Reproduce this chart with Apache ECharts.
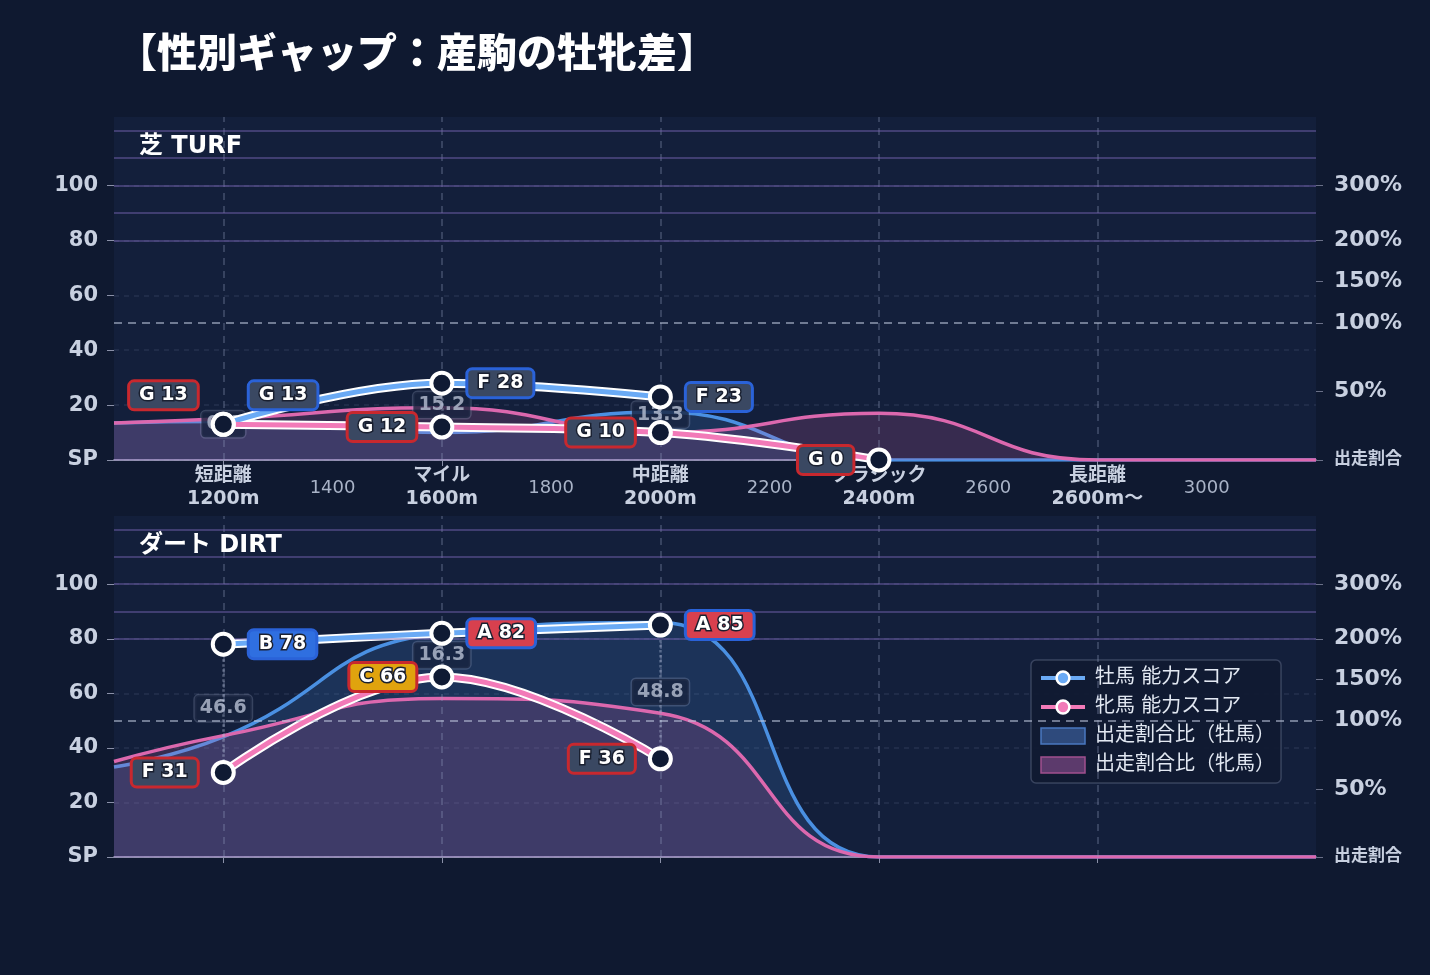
<!DOCTYPE html>
<html lang="ja">
<head>
<meta charset="utf-8">
<title>性別ギャップ：産駒の牡牝差</title>
<script src="https://cdn.jsdelivr.net/npm/echarts@6/dist/echarts.min.js"></script>
<style>
html, body { margin: 0; padding: 0; background: #0f1930; }
#chart { width: 1430px; height: 975px; }
</style>
</head>
<body>
<div id="chart"></div>
<script>
// 距離軸
var distTicks = [1200, 1400, 1600, 1800, 2000, 2200, 2400, 2600, 2800, 3000];
var majorDist = [1200, 1600, 2000, 2400, 2800];
var majorName = ['短距離', 'マイル', '中距離', 'クラシック', '長距離'];
var majorSub = ['1200m', '1600m', '2000m', '2400m', '2600m〜'];

// 能力スコア（距離区分ごと）
var scoreX = [1200, 1600, 2000, 2400];
var turfMale = [13, 28, 23, null];
var turfMaleGrade = ['G', 'F', 'F', null];
var turfFemale = [13, 12, 10, 0];
var turfFemaleGrade = ['G', 'G', 'G', 'G'];
var turfGap = [0.4, 15.2, 13.3, null];

var dirtMale = [78, 82, 85, null];
var dirtMaleGrade = ['B', 'A', 'A', null];
var dirtFemale = [31, 66, 36, null];
var dirtFemaleGrade = ['F', 'C', 'F', null];
var dirtGap = [46.6, 16.3, 48.8, null];

// 出走割合比（%）
var ratioX = [1000, 1200, 1600, 2000, 2400, 2800, 3200];
var turfMaleRatio = [27, 28, 20, 35, 0, 0, 0];
var turfFemaleRatio = [27, 30, 38, 20, 34, 0, 0];
var dirtMaleRatio = [66, 88, 210, 230, 0, 0, 0];
var dirtFemaleRatio = [70, 89, 127, 109, 0, 0, 0];

// 軸ラベル
var scoreTicks = [0, 20, 40, 60, 80, 100];
var ratioTicks = [0, 50, 100, 150, 200, 300];
var ratioGuides = [200, 250, 300, 350, 400];

// 右軸（割合）の区分線形スケール
var ratioStops = [0, 100, 200, 300, 400];
var ratioAt = [0, 50, 80, 100, 120];

function toY(r) {
	for (var i = 1; i < ratioStops.length; i++) {
		if (r <= ratioStops[i] || i === ratioStops.length - 1) {
			var t = (r - ratioStops[i - 1]) / (ratioStops[i] - ratioStops[i - 1]);
			return ratioAt[i - 1] + t * (ratioAt[i] - ratioAt[i - 1]);
		}
	}
}

function fromY(v) {
	for (var i = 1; i < ratioAt.length; i++) {
		if (v <= ratioAt[i] + 1e-6 || i === ratioAt.length - 1) {
			var t = (v - ratioAt[i - 1]) / (ratioAt[i] - ratioAt[i - 1]);
			return ratioStops[i - 1] + t * (ratioStops[i] - ratioStops[i - 1]);
		}
	}
}

var gradeBg = { A: '#d8404e', B: '#2f6fe0', C: '#e0a30e', D: '#3a9a5a', E: '#6a6aa0', F: '#3a4862', G: '#3a4862' };
var sexBorder = { m: '#2a62d8', f: '#c8282e' };
var MALE = '#6aaaf5', FEMALE = '#f27ab8';
var FONT = 'DejaVu Sans, "Noto Sans CJK JP", sans-serif';

var grids = [
	{ left: 114, right: 114, top: 117, height: 343 },
	{ left: 114, right: 114, top: 516, height: 341 }
];

function xAxisFor(gi) {
	return {
		type: 'value', gridIndex: gi, min: 1000, max: 3200, interval: 200,
		axisLine: { show: true, lineStyle: { color: '#b9b2d8', width: 1.5 } },
		axisTick: { show: true, customValues: majorDist, length: 6, lineStyle: { color: '#8a90a8' } },
		splitLine: { show: false },
		axisLabel: {
			show: gi === 0,
			customValues: distTicks,
			margin: 5,
			formatter: function(v) {
				var i = majorDist.indexOf(v);
				if (i >= 0) return '{b|' + majorName[i] + '}\n{b|' + majorSub[i] + '}';
				return '{m|' + v + '}';
			},
			rich: {
				b: { fontSize: 19, fontWeight: 'bold', color: '#c8d0e0', lineHeight: 23, fontFamily: FONT },
				m: { fontSize: 18, color: '#a9b3c7', lineHeight: 46, fontFamily: FONT }
			}
		}
	};
}

function leftAxisFor(gi) {
	return {
		type: 'value', gridIndex: gi, min: 0, max: 125, interval: 20, position: 'left',
		axisLine: { show: false },
		axisTick: { show: true, customValues: scoreTicks, length: 7, lineStyle: { color: '#8a90a8' } },
		splitLine: { show: true, lineStyle: { color: 'rgba(160,170,210,0.13)', type: [5, 5], width: 1.5 } },
		axisLabel: {
			customValues: scoreTicks, margin: 16,
			color: '#c8d0e0', fontSize: 21, fontWeight: 'bold', fontFamily: FONT,
			formatter: function(v) { return v === 0 ? 'SP' : v; }
		}
	};
}

function rightAxisFor(gi) {
	return {
		type: 'value', gridIndex: gi, min: 0, max: 125, position: 'right',
		axisLine: { show: false },
		axisTick: { show: true, customValues: ratioTicks.map(toY), length: 7, lineStyle: { color: '#6a7088' } },
		splitLine: { show: false },
		axisLabel: {
			customValues: ratioTicks.map(toY), margin: 18,
			color: '#c8d0e0', fontSize: 22, fontWeight: 'bold', fontFamily: FONT,
			formatter: function(v) {
				var r = Math.round(fromY(v));
				return r === 0 ? '{s|出走割合}' : r + '%';
			},
			rich: { s: { fontSize: 17, fontWeight: 'bold', color: '#c8d0e0', fontFamily: FONT } }
		}
	};
}

function ratioSeries(name, ratios, gi, lineColor, fill, z, guides) {
	var s = {
		name: name, type: 'line', xAxisIndex: gi, yAxisIndex: gi * 2,
		smooth: 0.5, symbol: 'none', z: z, silent: true,
		lineStyle: { color: lineColor, width: 3.5 },
		areaStyle: { color: fill, opacity: 1 },
		data: ratioX.map(function(d, i) { return [d, toY(ratios[i])]; })
	};
	if (guides) {
		var lines = [];
		majorDist.forEach(function(d) {
			lines.push({ xAxis: d, lineStyle: { color: 'rgba(150,160,195,0.28)', type: [7, 6], width: 2 } });
		});
		ratioGuides.forEach(function(r) {
			lines.push({ yAxis: toY(r), lineStyle: { color: 'rgba(120,100,180,0.45)', type: 'solid', width: 2 } });
		});
		lines.push({ yAxis: toY(100), lineStyle: { color: 'rgba(190,198,220,0.55)', type: [8, 6], width: 2 } });
		s.markLine = { silent: true, symbol: ['none', 'none'], label: { show: false }, animation: false, data: lines };
	}
	return s;
}

function scoreSeries(name, scores, grades, sex, gi, color, lifted) {
	var data = [];
	scoreX.forEach(function(x, i) {
		if (scores[i] == null) return;
		var g = grades[i];
		data.push({
			value: [x, scores[i]],
			label: {
				show: true,
				position: sex === 'm' ? 'right' : 'left',
				distance: 14,
				offset: lifted.indexOf(x) >= 0 ? [0, -29] : [0, 0],
				formatter: g + ' ' + scores[i],
				backgroundColor: gradeBg[g],
				borderColor: sexBorder[sex],
				borderWidth: 3, borderRadius: 4,
				padding: [4, 9, 3, 9],
				color: '#ffffff', fontSize: 19, fontWeight: 'bold', fontFamily: FONT,
				textBorderColor: '#1a2030', textBorderWidth: 3
			}
		});
	});
	var under = {
		name: '_under', type: 'line', xAxisIndex: gi, yAxisIndex: gi * 2,
		smooth: 0.4, symbol: 'none', z: 4, silent: true,
		lineStyle: { color: '#ffffff', width: 9 },
		data: data.map(function(d) { return d.value; })
	};
	var main = {
		name: name, type: 'line', xAxisIndex: gi, yAxisIndex: gi * 2,
		smooth: 0.4, z: 5,
		symbol: 'circle', symbolSize: 21,
		itemStyle: { color: '#0f1a33', borderColor: '#ffffff', borderWidth: 4 },
		lineStyle: { color: color, width: 5 },
		data: data
	};
	return [under, main];
}

function gapSeries(male, female, gaps, gi) {
	var pts = [], links = [];
	scoreX.forEach(function(x, i) {
		if (gaps[i] == null) return;
		pts.push({ value: [x, (male[i] + female[i]) / 2], gap: gaps[i] });
		links.push([{ coord: [x, male[i]] }, { coord: [x, female[i]] }]);
	});
	return {
		name: '_gap', type: 'scatter', xAxisIndex: gi, yAxisIndex: gi * 2,
		symbolSize: 1, z: 3, silent: true,
		itemStyle: { color: 'rgba(0,0,0,0)' },
		label: {
			show: true, position: 'inside',
			formatter: function(p) { return p.data.gap.toFixed(1); },
			backgroundColor: '#18233f', borderColor: 'rgba(150,160,190,0.35)', borderWidth: 1.5,
			borderRadius: 4, padding: [4, 5, 3, 5],
			color: '#b8c1d3', fontSize: 19, fontWeight: 'bold', fontFamily: FONT
		},
		markLine: {
			silent: true, symbol: ['none', 'none'], label: { show: false }, animation: false,
			lineStyle: { color: 'rgba(200,210,235,0.35)', type: 'dotted', width: 2.5 },
			data: links
		},
		data: pts
	};
}

var series = [];
// 芝
series.push(ratioSeries('出走割合比（牡馬）', turfMaleRatio, 0, '#4a90e2', 'rgba(74,144,226,0.18)', 1, true));
series.push(ratioSeries('出走割合比（牝馬）', turfFemaleRatio, 0, '#dc68ae', 'rgba(220,100,170,0.18)', 2, false));
series.push(gapSeries(turfMale, turfFemale, turfGap, 0));
series = series.concat(scoreSeries('牡馬 能力スコア', turfMale, turfMaleGrade, 'm', 0, MALE, [1200]));
series = series.concat(scoreSeries('牝馬 能力スコア', turfFemale, turfFemaleGrade, 'f', 0, FEMALE, [1200]));
// ダート
series.push(ratioSeries('出走割合比（牡馬）', dirtMaleRatio, 1, '#4a90e2', 'rgba(74,144,226,0.18)', 1, true));
series.push(ratioSeries('出走割合比（牝馬）', dirtFemaleRatio, 1, '#dc68ae', 'rgba(220,100,170,0.18)', 2, false));
series.push(gapSeries(dirtMale, dirtFemale, dirtGap, 1));
series = series.concat(scoreSeries('牡馬 能力スコア', dirtMale, dirtMaleGrade, 'm', 1, MALE, []));
series = series.concat(scoreSeries('牝馬 能力スコア', dirtFemale, dirtFemaleGrade, 'f', 1, FEMALE, []));

var option = {
	backgroundColor: '#0f1930',
	animation: false,
	textStyle: { fontFamily: FONT },
	title: [
		{ text: '【性別ギャップ：産駒の牡牝差】', left: 112, top: 27,
			textStyle: { color: '#ffffff', fontSize: 40, fontWeight: 900, fontFamily: '"Noto Sans CJK JP", sans-serif' } },
		{ text: '芝 TURF', left: 134, top: 130,
			textStyle: { color: '#ffffff', fontSize: 24, fontWeight: 'bold', fontFamily: FONT } },
		{ text: 'ダート DIRT', left: 134, top: 529,
			textStyle: { color: '#ffffff', fontSize: 24, fontWeight: 'bold', fontFamily: FONT } }
	],
	grid: grids.map(function(g) {
		return { left: g.left, right: g.right, top: g.top, height: g.height,
			show: true, backgroundColor: '#131f3b', borderWidth: 0 };
	}),
	xAxis: [xAxisFor(0), xAxisFor(1)],
	yAxis: [leftAxisFor(0), rightAxisFor(0), leftAxisFor(1), rightAxisFor(1)],
	legend: {
		orient: 'vertical', left: 1031, top: 660,
		padding: [8, 6, 8, 8], itemGap: 9, itemWidth: 44, itemHeight: 16,
		backgroundColor: 'rgba(16,26,50,0.92)', borderColor: 'rgba(150,160,190,0.3)', borderWidth: 1.5, borderRadius: 5,
		textStyle: { color: '#e2e8f2', fontSize: 20, fontFamily: FONT, padding: [0, 0, 0, 5] },
		selectedMode: false,
		data: [
			{ name: '牡馬 能力スコア', itemStyle: { color: MALE, borderColor: '#ffffff', borderWidth: 2.5 }, lineStyle: { color: MALE, width: 4 } },
			{ name: '牝馬 能力スコア', itemStyle: { color: FEMALE, borderColor: '#ffffff', borderWidth: 2.5 }, lineStyle: { color: FEMALE, width: 4 } },
			{ name: '出走割合比（牡馬）', icon: 'rect', itemStyle: { color: '#2e4a7c', borderColor: '#4a78c0', borderWidth: 1.5 } },
			{ name: '出走割合比（牝馬）', icon: 'rect', itemStyle: { color: '#5c3a6c', borderColor: '#a0508e', borderWidth: 1.5 } }
		]
	},
	series: series
};

var myChart = echarts.init(document.getElementById('chart'));
myChart.setOption(option);
</script>
</body>
</html>
